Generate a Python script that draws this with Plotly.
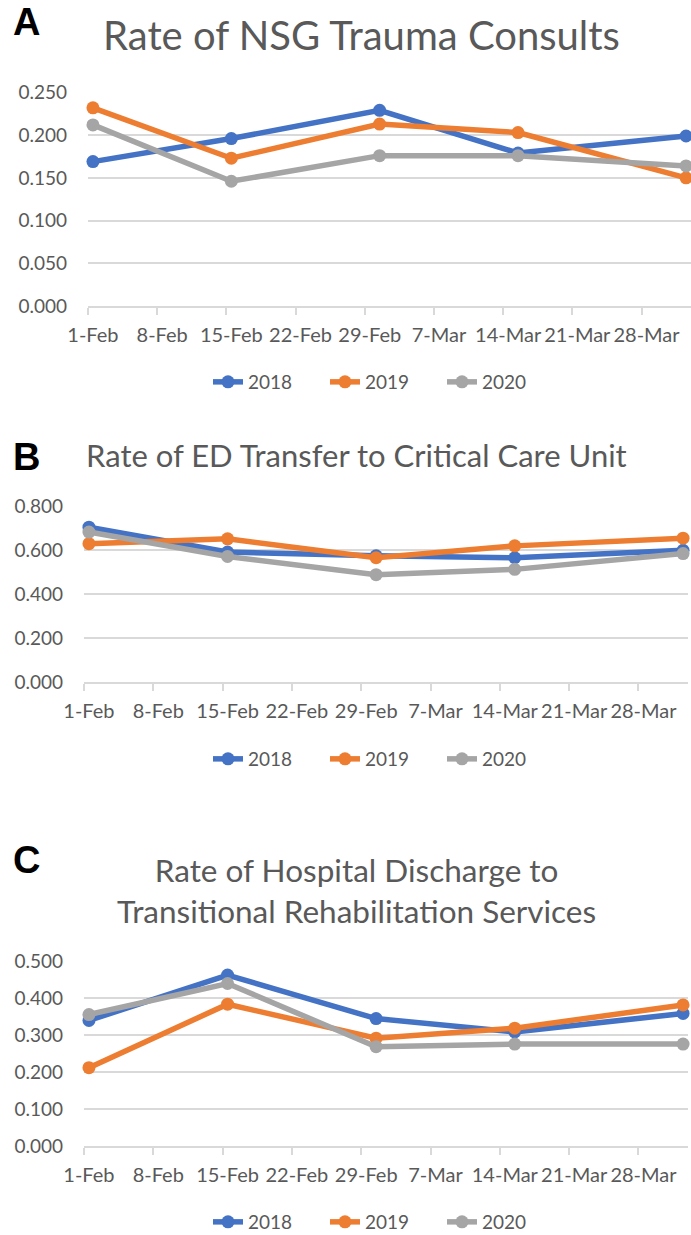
import plotly.graph_objects as go
from datetime import datetime, timedelta

# ---------------- data ----------------
dates = ["2020-02-01", "2020-02-15", "2020-03-01", "2020-03-15", "2020-04-01"]
years = ["2018", "2019", "2020"]

nsg_2018 = [0.169, 0.196, 0.229, 0.179, 0.199]
nsg_2019 = [0.232, 0.173, 0.213, 0.203, 0.150]
nsg_2020 = [0.212, 0.146, 0.176, 0.176, 0.164]

ed_2018 = [0.705, 0.592, 0.575, 0.566, 0.600]
ed_2019 = [0.630, 0.652, 0.566, 0.620, 0.655]
ed_2020 = [0.683, 0.572, 0.489, 0.513, 0.585]

dis_2018 = [0.340, 0.463, 0.345, 0.309, 0.359]
dis_2019 = [0.212, 0.384, 0.292, 0.319, 0.382]
dis_2020 = [0.356, 0.440, 0.269, 0.276, 0.276]

tick_dates = ["2020-02-01", "2020-02-08", "2020-02-15", "2020-02-22", "2020-02-29",
              "2020-03-07", "2020-03-14", "2020-03-21", "2020-03-28"]
tick_labels = ["1-Feb", "8-Feb", "15-Feb", "22-Feb", "29-Feb",
               "7-Mar", "14-Mar", "21-Mar", "28-Mar"]

panel_titles = ["Rate of NSG Trauma Consults",
                "Rate of ED Transfer to Critical Care Unit",
                "Rate of Hospital Discharge to<br>Transitional Rehabilitation Services"]
panel_letters = ["A", "B", "C"]

# ---------------- style ----------------
W, H = 691, 1235
colors = ["#4472C4", "#ED7D31", "#A5A5A5"]
text_gray = "#595959"
grid_gray = "#D9D9D9"
FONT = "Lato"


def px(x):
    return x / W


def py(y):
    return 1 - y / H


def mid(d):
    return datetime.strptime(d, "%Y-%m-%d") + timedelta(hours=12)


x_pts = [mid(d) for d in dates]
tick_mid = [mid(d) for d in tick_dates]

panels = [
    dict(series=[nsg_2018, nsg_2019, nsg_2020], yr=[0, 0.25], dt=0.05,
         xdom=[px(88), 1.0], ydom=[py(306), py(92)],
         letter_xy=(26, 22), title_xy=(362, 35), title_size=40, legend_y=382),
    dict(series=[ed_2018, ed_2019, ed_2020], yr=[0, 0.8], dt=0.2,
         xdom=[px(84), px(688)], ydom=[py(682), py(506)],
         letter_xy=(27, 457), title_xy=(356, 455), title_size=31, legend_y=759),
    dict(series=[dis_2018, dis_2019, dis_2020], yr=[0, 0.5], dt=0.1,
         xdom=[px(84), px(688)], ydom=[py(1146), py(961)],
         letter_xy=(27, 860), title_xy=(356, 890), title_size=31.5, legend_y=1222),
]

fig = go.Figure()
annotations = []
layout_axes = {}

for i, p in enumerate(panels):
    n = "" if i == 0 else str(i + 1)
    leg = "legend" if i == 0 else f"legend{i + 1}"
    for j, (yr, vals) in enumerate(zip(years, p["series"])):
        fig.add_trace(go.Scatter(
            x=x_pts, y=vals, name=yr, mode="lines+markers",
            line=dict(color=colors[j], width=5.5),
            marker=dict(color=colors[j], size=13),
            xaxis=f"x{n}", yaxis=f"y{n}", legend=leg, cliponaxis=False,
        ))
    layout_axes[f"xaxis{n}"] = dict(
        domain=p["xdom"], anchor=f"y{n}", type="date", automargin=False,
        range=["2020-02-01", "2020-04-02"],
        tickmode="array", tickvals=tick_mid, ticktext=tick_labels,
        ticks="", showgrid=False, showline=True, linecolor=grid_gray, linewidth=1.5,
        tickfont=dict(family=FONT, size=20, color=text_gray),
        ticklabelstandoff=10,
        minor=dict(tickmode="array", tickvals=tick_dates, ticks="outside",
                   ticklen=7, tickcolor=grid_gray, tickwidth=1.5, showgrid=False),
        zeroline=False,
    )
    layout_axes[f"yaxis{n}"] = dict(
        domain=p["ydom"], anchor=f"x{n}", range=[p["yr"][0], p["yr"][1] * 1.002],
        automargin=False,
        tickmode="linear", tick0=0, dtick=p["dt"], tickformat=".3f",
        showgrid=True, gridcolor=grid_gray, gridwidth=1.5, zeroline=False,
        showline=False, ticks="",
        tickfont=dict(family=FONT, size=19, color=text_gray),
        ticklabelstandoff=20,
    )
    layout_axes[leg] = dict(
        orientation="h", x=px(208), xanchor="left", y=py(p["legend_y"]),
        yanchor="middle", font=dict(family=FONT, size=19, color=text_gray),
        bgcolor="rgba(0,0,0,0)", entrywidth=72, entrywidthmode="pixels",
    )
    lx, ly = p["letter_xy"]
    annotations.append(dict(
        text=f"<b>{panel_letters[i]}</b>", x=px(lx), y=py(ly), xref="paper", yref="paper",
        xanchor="center", yanchor="middle", showarrow=False,
        font=dict(family="Liberation Sans", size=38, color="#000000"),
    ))
    tx, ty = p["title_xy"]
    annotations.append(dict(
        text=panel_titles[i], x=px(tx), y=py(ty), xref="paper", yref="paper",
        xanchor="center", yanchor="middle", showarrow=False,
        font=dict(family=FONT, size=p["title_size"], color=text_gray),
    ))

fig.update_layout(
    width=W, height=H, margin=dict(l=0, r=0, t=0, b=0, autoexpand=False),
    paper_bgcolor="white", plot_bgcolor="white",
    annotations=annotations, **layout_axes,
)

fig.write_html("out.html", config={"displayModeBar": False},
               post_script="document.body.style.margin='0';")
